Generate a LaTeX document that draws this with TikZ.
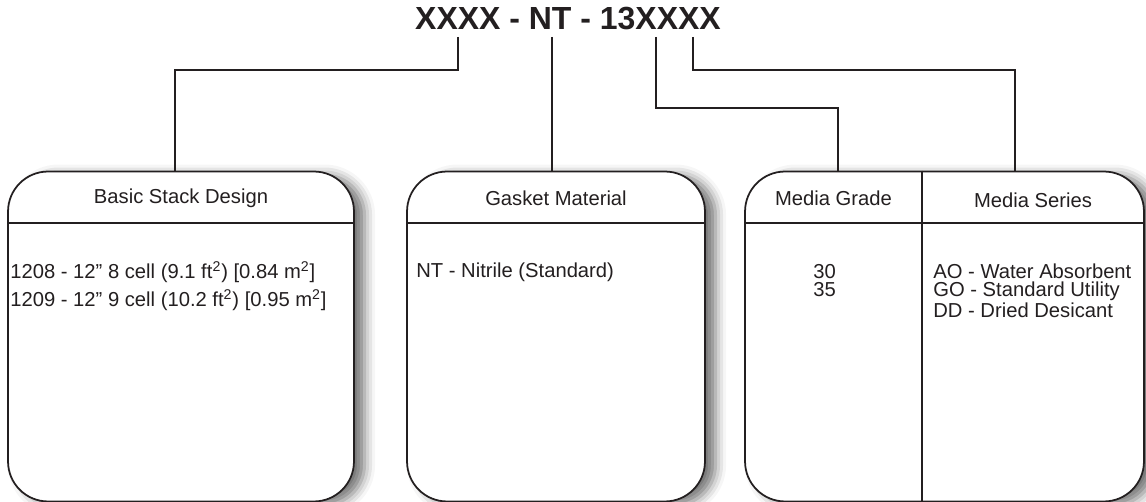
\documentclass[tikz,border=0pt]{standalone}
\usepackage{fontspec}
\setmainfont{Liberation Sans}
\usetikzlibrary{positioning,shadows.blur}
\definecolor{InkGray}{HTML}{231F20}

\begin{document}
\begin{tikzpicture}[x=0.02cm,y=-0.02cm,
 card/.style={draw=InkGray,line width=1pt,fill=white,rounded corners=0.8cm,minimum height=6.6cm,
  blur shadow={shadow xshift=6pt,shadow yshift=-2pt,shadow blur radius=6pt,shadow opacity=55}},
 rule/.style={draw=InkGray,line width=1pt},
 head/.style={font=\fontsize{11.5}{13}\selectfont,text=InkGray,inner sep=0pt},
 item/.style={font=\fontsize{11.5}{10.2}\selectfont,text=InkGray,anchor=north west,inner sep=0pt,align=left},
 link/.style={draw=InkGray,line width=1pt}]
\useasboundingbox (0,0) rectangle (1146,502);
\node[font=\fontsize{18.2}{22}\selectfont\bfseries,text=InkGray] (code) at (568,19) {XXXX - NT - 13XXXX};
\node[card,minimum width=6.92cm] (design) at (181,336.5) {};
\node[card,minimum width=5.96cm] (gasket) at (556,336.5) {};
\node[card,minimum width=7.98cm] (media) at (944.5,336.5) {};
\foreach \b in {design,gasket,media} \draw[rule] (\b.west |- 0,223) -- (\b.east |- 0,223);
\draw[rule] (media.north -| 922,0) -- (media.south -| 922,0);
% headings
\node[head] (designhead) at (181,198) {Basic Stack Design};
\node[head] (gaskethead) at (556,198) {Gasket Material};
\node[head] (gradehead) at (833.5,198) {Media Grade};
\node[head] (serieshead) at (1033,200) {Media Series};
% entries
\node[item,anchor=west] (d1208) at (10,272) {1208 - 12” 8 cell (9.1 ft\textsuperscript{2}) [0.84 m\textsuperscript{2}]};
\node[item,anchor=west] (d1209) at (10,300) {1209 - 12” 9 cell (10.2 ft\textsuperscript{2}) [0.95 m\textsuperscript{2}]};
\node[item,anchor=west] (gnt) at (416,272) {NT - Nitrile (Standard)};
\node[item] (grades) at (813,264) {30\\35};
\node[item] (series) at (933,264) {AO - Water Absorbent\\GO - Standard Utility\\DD - Dried Desicant};
% taps under the code
\coordinate (tapA) at (458,37);
\coordinate (tapB) at (552,37);
\coordinate (tapC) at (656,37);
\coordinate (tapD) at (693,37);
\draw[link] (tapA) -- (tapA |- 0,70) -| ([xshift=-0.12cm]design.north);
\draw[link] (tapB) -- (tapB |- gasket.north);
\draw[link] (tapC) -- (tapC |- 0,108) -| ([xshift=-2.13cm]media.north);
\draw[link] (tapD) -- (tapD |- 0,70) -| ([xshift=1.41cm]media.north);
\end{tikzpicture}
\end{document}
